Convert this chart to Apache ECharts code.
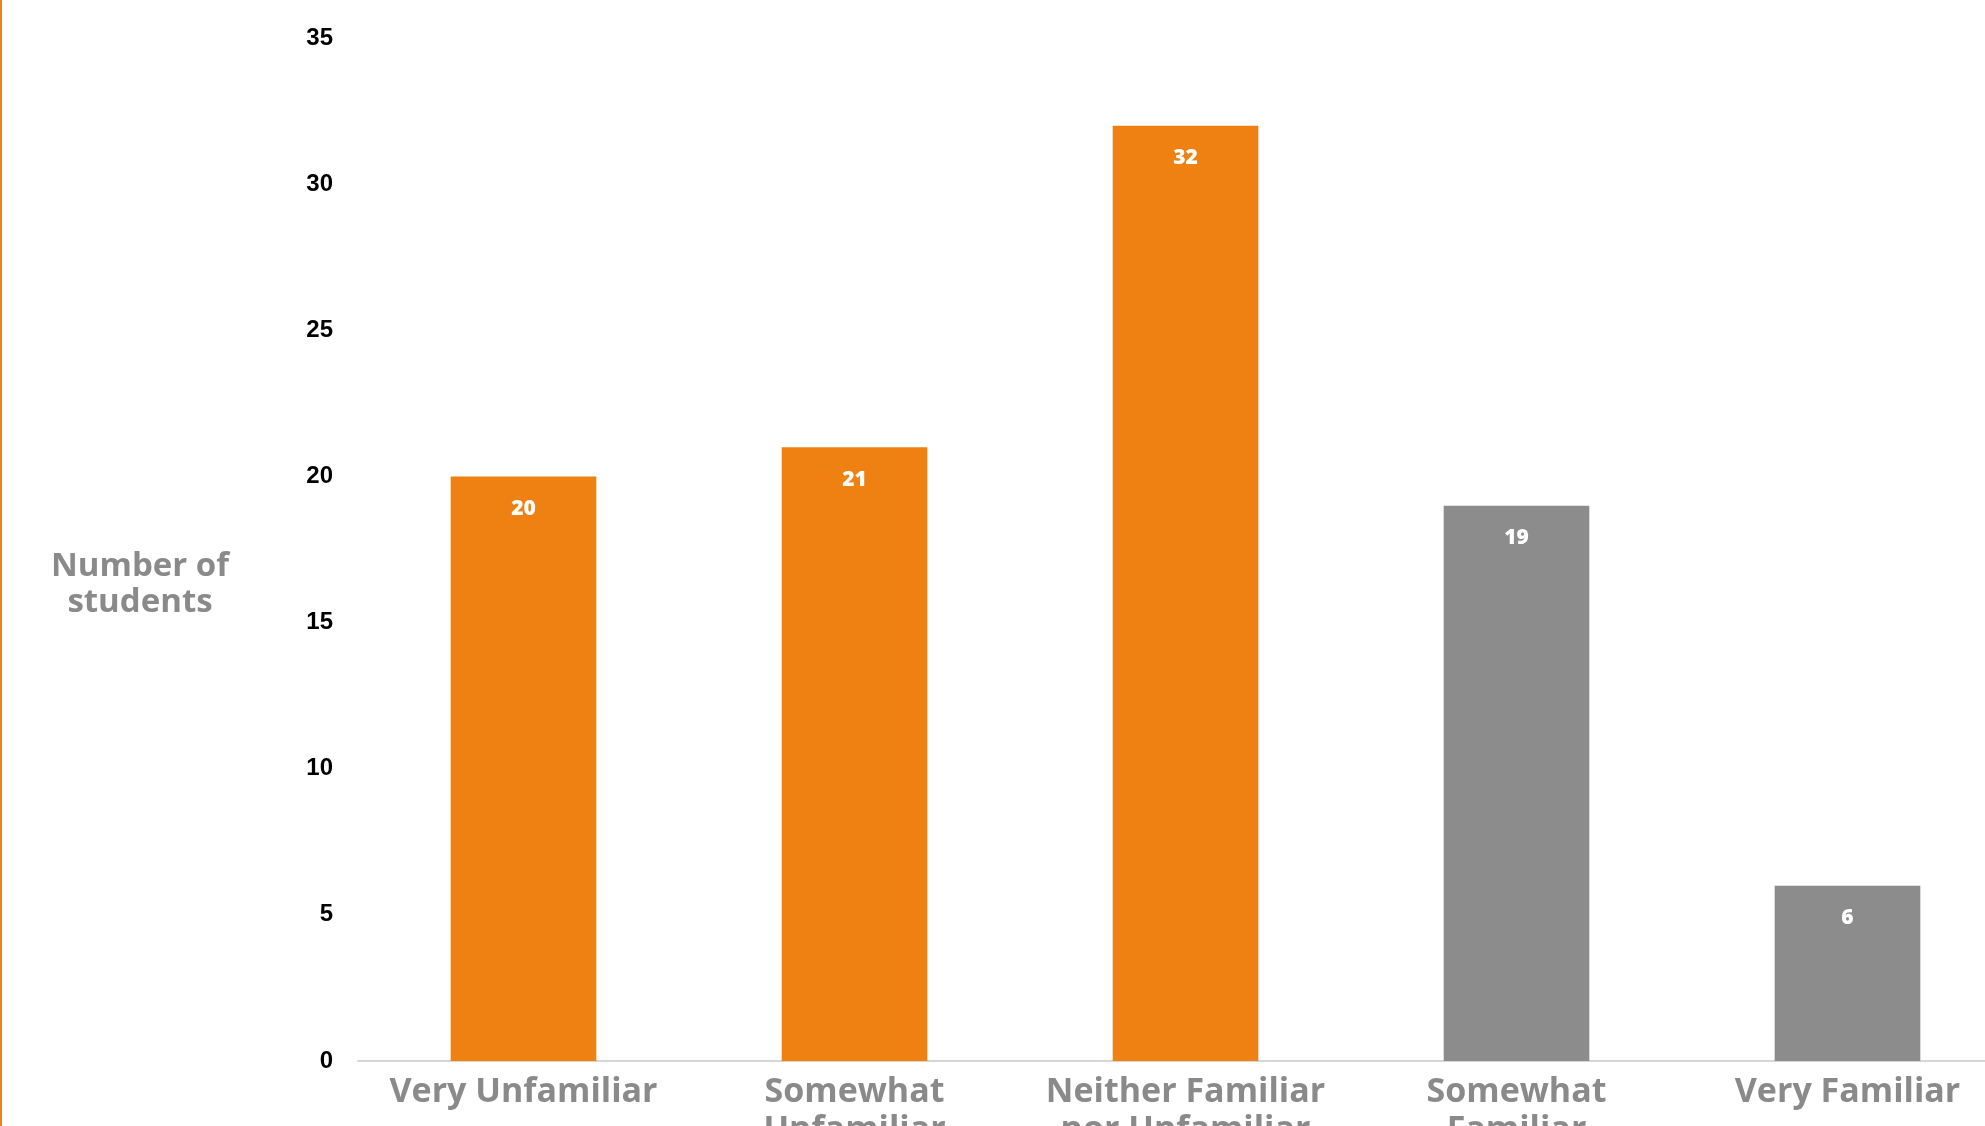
<!DOCTYPE html>
<html>
<head>
<meta charset="utf-8">
<script src="https://cdn.jsdelivr.net/npm/echarts@6/dist/echarts.min.js"></script>
<style>
  html, body { margin: 0; padding: 0; background: #ffffff; }
  #chart { width: 1985px; height: 1126px; box-sizing: border-box; border-left: 2px solid #EF8012; }
</style>
</head>
<body>
<div id="chart"></div>
<script>
const categories = ['Very Unfamiliar', 'Somewhat\nUnfamiliar', 'Neither Familiar\nnor Unfamiliar', 'Somewhat\nFamiliar', 'Very Familiar'];
const values = [20, 21, 32, 19, 6];
const yTicks = { min: 0, max: 35, interval: 5 };
const axisName = 'Number of\nstudents';

const ORANGE = '#EF8012';
const GRAY = '#8C8C8C';
const labelFont = '"Open Sans", Lato, sans-serif';

const chart = echarts.init(document.getElementById('chart'), null, { renderer: 'canvas' });
chart.setOption({
  animation: false,
  backgroundColor: '#ffffff',
  title: {
    text: axisName,
    left: 138,
    top: 549,
    padding: 0,
    textAlign: 'center',
    textStyle: {
      color: '#8A8A8A',
      fontFamily: labelFont,
      fontWeight: 700,
      fontSize: 33,
      lineHeight: 36
    }
  },
  grid: { left: 356, top: 38, width: 1655, bottom: 65, containLabel: false, outerBoundsMode: 'none' },
  xAxis: {
    type: 'category',
    data: categories,
    axisLine: { show: true, lineStyle: { color: '#D6D6D6', width: 2 } },
    axisTick: { show: false },
    axisLabel: {
      interval: 0,
      margin: 12,
      color: '#8A8A8A',
      fontFamily: labelFont,
      fontWeight: 700,
      fontSize: 34,
      lineHeight: 38
    }
  },
  yAxis: {
    type: 'value',
    min: yTicks.min, max: yTicks.max, interval: yTicks.interval,
    splitLine: { show: false },
    axisLine: { show: false },
    axisTick: { show: false },
    axisLabel: {
      margin: 25,
      color: '#000000',
      fontFamily: '"Liberation Sans", Arial, sans-serif',
      fontWeight: 'bold',
      fontSize: 24
    }
  },
  series: [{
    type: 'bar',
    data: values,
    barCategoryGap: '56%',
    itemStyle: {
      color: (p) => p.dataIndex < 3 ? ORANGE : GRAY
    },
    label: {
      show: true,
      position: 'insideTop',
      distance: 22,
      color: '#ffffff',
      fontFamily: labelFont,
      fontWeight: 800,
      fontSize: 21
    }
  }]
});
</script>
</body>
</html>
